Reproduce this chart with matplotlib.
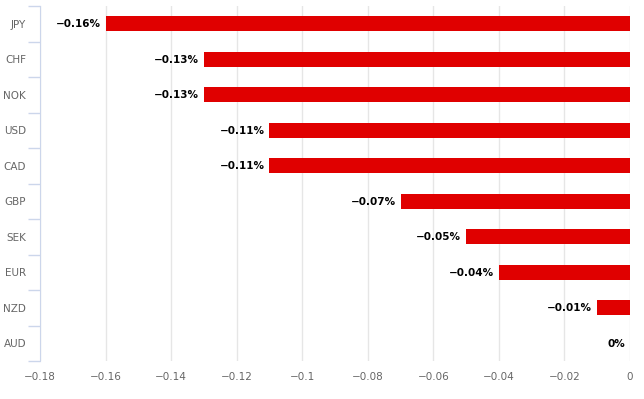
import numpy as np
import matplotlib
matplotlib.use('Agg')
import matplotlib.pyplot as plt
from matplotlib.ticker import FuncFormatter, FixedLocator

# Currency changes (%)
currencies = ['JPY', 'CHF', 'NOK', 'USD', 'CAD', 'GBP', 'SEK', 'EUR', 'NZD', 'AUD']
changes = [-0.16, -0.13, -0.13, -0.11, -0.11, -0.07, -0.05, -0.04, -0.01, 0.0]
x_ticks = np.arange(-0.18, 0.001, 0.02)

fig = plt.figure(figsize=(6.44, 3.99), dpi=100)
ax = fig.add_axes([40 / 644, 1 - 361 / 399, 590 / 644, 355 / 399])

y = np.arange(len(currencies))
ax.barh(y, changes, height=0.43, color='#e00000', zorder=3)

for yi, v in zip(y, changes):
    label = '0%' if v == 0 else f'{v:.2f}%'.replace('-', '\u2212')
    ax.annotate(label, (v, yi), xytext=(-3.5, -0.5), textcoords='offset points',
                ha='right', va='center', fontsize=7.5, fontweight='bold', color='#000000')

ax.set_ylim(len(currencies) - 0.5, -0.5)
ax.set_xlim(-0.18, 0)
ax.set_yticks(y)
ax.set_yticklabels(currencies)
ax.yaxis.set_minor_locator(FixedLocator(np.arange(-0.5, len(currencies), 1)))
ax.tick_params(axis='y', which='major', length=0, pad=10, labelsize=7.5, labelcolor='#666666')
ax.tick_params(axis='y', which='minor', length=9, width=1, color='#ccd6eb')

ax.set_xticks(x_ticks)
ax.xaxis.set_major_formatter(FuncFormatter(
    lambda v, p: '0' if abs(v) < 1e-9 else f'{v:g}'.replace('-', '\u2212')))
ax.tick_params(axis='x', length=0, pad=8, labelsize=7.5, labelcolor='#666666')
ax.grid(axis='x', color='#e6e6e6', linewidth=1, zorder=0)

for side in ['top', 'right', 'bottom']:
    ax.spines[side].set_visible(False)
ax.spines['left'].set_color('#ccd6eb')

fig.savefig('out.png', dpi=100)
